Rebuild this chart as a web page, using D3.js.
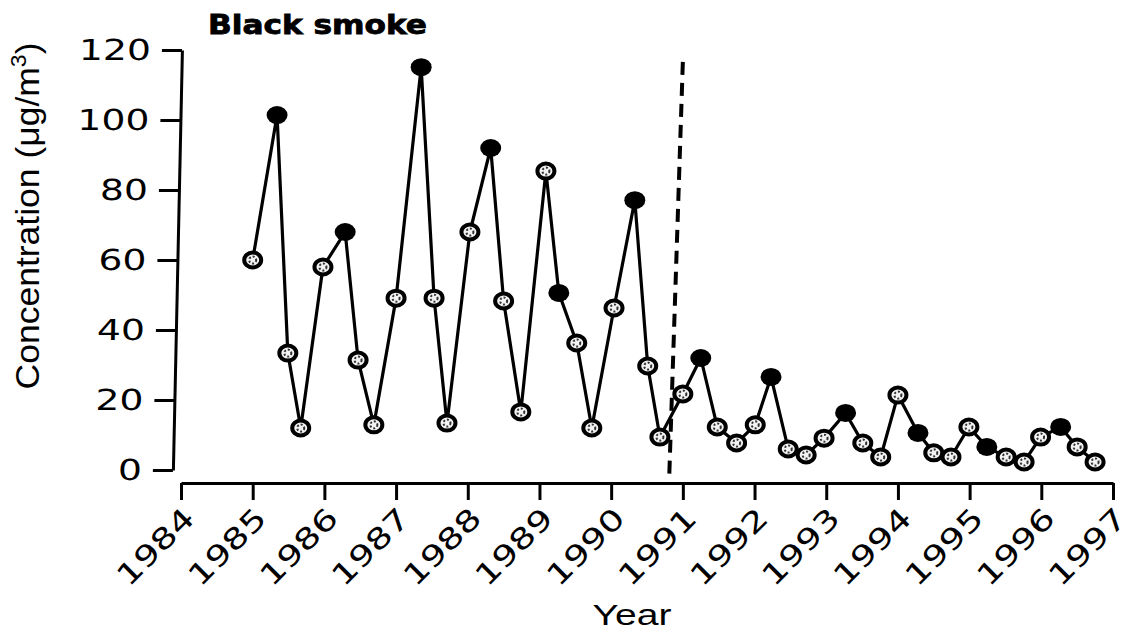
<!DOCTYPE html>
<html>
<head>
<meta charset="utf-8">
<script src="https://cdn.jsdelivr.net/npm/d3@7"></script>
<style>
  body { margin: 0; background: #fff; }
  svg { display: block; }
</style>
</head>
<body>
<svg id="chart"></svg>
<script>
const WIDTH = 1132,
      HEIGHT = 633;

// quarterly samples (year as decimal, value in µg/m3)
const years = [
  1985.00, 1985.34, 1985.49, 1985.67, 1985.98, 1986.29, 1986.47, 1986.69,
  1987.00, 1987.35, 1987.53, 1987.71, 1988.03, 1988.32, 1988.50, 1988.74,
  1989.09, 1989.27, 1989.52, 1989.73, 1990.04, 1990.33, 1990.51, 1990.68,
  1991.00, 1991.25, 1991.48, 1991.75, 1992.01, 1992.23, 1992.47, 1992.72,
  1992.97, 1993.27, 1993.51, 1993.76, 1994.00, 1994.28, 1994.50, 1994.74,
  1994.99, 1995.24, 1995.51, 1995.76, 1995.99, 1996.27, 1996.50, 1996.75
];
const concentration = [
  60, 101.4, 33.4, 12, 58, 68, 31.4, 12.9,
  49.1, 115.1, 49.1, 13.4, 68, 92, 48.3, 16.6,
  85.4, 50.6, 36.3, 12, 46.3, 77.1, 29.7, 9.4,
  21.7, 32, 12.3, 7.7, 12.9, 26.6, 6, 4.3,
  9.1, 16.3, 7.7, 3.7, 21.4, 10.6, 4.9, 3.7,
  12.3, 6.6, 3.7, 2.3, 9.4, 12.3, 6.6, 2.3
];
// black markers vs. open (speckled) markers
const solid = [
  0, 1, 0, 0, 0, 1, 0, 0,
  0, 1, 0, 0, 0, 1, 0, 0,
  0, 1, 0, 0, 0, 1, 0, 0,
  0, 1, 0, 0, 0, 1, 0, 0,
  0, 1, 0, 0, 0, 1, 0, 0,
  0, 1, 0, 0, 0, 1, 0, 0
];

const yTicks = [0, 20, 40, 60, 80, 100, 120];
const xTicks = [1984, 1985, 1986, 1987, 1988, 1989, 1990, 1991, 1992, 1993, 1994, 1995, 1996, 1997];

// dashed marker line (top end, bottom end)
const cutYears = [1991.0, 1990.81];
const cutValues = [116.6, -2];

const svg = d3.select("svg#chart")
                .attr("width", WIDTH)
                .attr("height", HEIGHT);

const xScale = d3.scaleLinear()
                .domain([1984, 1997])
                .range([181, 1113]);

const yScale = d3.scaleLinear()
                .domain([0, 120])
                .range([470, 50]);

// y axis (the scan is slightly skewed, so the axis leans a touch)
const yAxis = svg.append("g")
                .attr("transform", "translate(183,0) skewX(-1.23)")
                .call(d3.axisLeft(yScale)
                        .tickValues(yTicks)
                        .tickSize(20)
                        .tickSizeOuter(0)
                        .tickFormat(d3.format("d")))
                .attr("font-family", "DejaVu Sans")
                .attr("font-size", 29);

yAxis.select(".domain").attr("stroke-width", 3);
yAxis.selectAll(".tick line").attr("stroke-width", 3);
yAxis.selectAll(".tick text")
        .attr("fill", "#000")
        .attr("x", -31 / 1.3)
        .attr("transform", "scale(1.3,1)");

// x axis sits a bit below zero
const xAxis = svg.append("g")
                .attr("transform", "translate(0,483)")
                .call(d3.axisBottom(xScale)
                        .tickValues(xTicks)
                        .tickSize(17)
                        .tickSizeOuter(0)
                        .tickFormat(d3.format("d")))
                .attr("font-family", "DejaVu Sans")
                .attr("font-size", 29);

xAxis.select(".domain").attr("stroke-width", 3);
xAxis.selectAll(".tick line").attr("stroke-width", 3);
xAxis.selectAll(".tick text")
        .attr("fill", "#000")
        .attr("x", null)
        .attr("y", null)
        .attr("dy", null)
        .style("text-anchor", "end")
        .attr("transform", "translate(15,37) rotate(-45) scale(1.3,1)");

// dashed line
svg.append("line")
    .attr("x1", xScale(cutYears[0]))
    .attr("y1", yScale(cutValues[0]))
    .attr("x2", xScale(cutYears[1]))
    .attr("y2", yScale(cutValues[1]))
    .attr("stroke", "#000")
    .attr("stroke-width", 4)
    .attr("stroke-dasharray", "13 8");

// series line
const line = d3.line()
                .x((d, i) => xScale(years[i]))
                .y((d) => yScale(d));

svg.append("path")
    .datum(concentration)
    .attr("fill", "none")
    .attr("stroke", "#000")
    .attr("stroke-width", 3.2)
    .attr("stroke-linejoin", "round")
    .attr("d", line);

// markers
const marks = svg.append("g")
                .selectAll("g")
                .data(concentration)
                .join("g")
                .attr("transform", (d, i) => `translate(${xScale(years[i])},${yScale(d)})`);

marks.filter((d, i) => solid[i])
        .append("ellipse")
        .attr("rx", 10.5)
        .attr("ry", 9)
        .attr("fill", "#000");

const open = marks.filter((d, i) => !solid[i]);

open.append("ellipse")
        .attr("rx", 8.5)
        .attr("ry", 7.5)
        .attr("fill", "#f2f2f2")
        .attr("stroke", "#000")
        .attr("stroke-width", 4);

open.append("circle")
        .attr("r", 3.5)
        .attr("fill", "none")
        .attr("stroke", "#333")
        .attr("stroke-width", 2)
        .attr("stroke-dasharray", "2 2");

// texts
svg.append("text")
    .attr("x", 208)
    .attr("y", 34)
    .attr("font-family", "DejaVu Sans")
    .attr("font-weight", "bold")
    .attr("font-size", 26)
    .attr("stroke", "#000")
    .attr("stroke-width", 0.8)
    .attr("textLength", 219)
    .attr("lengthAdjust", "spacingAndGlyphs")
    .text("Black smoke");

const yLabel = svg.append("text")
    .attr("transform", "translate(39,216) rotate(-90)")
    .attr("font-family", "Liberation Sans")
    .attr("font-size", 34)
    .attr("textLength", 347)
    .attr("lengthAdjust", "spacingAndGlyphs")
    .style("text-anchor", "middle");

yLabel.append("tspan").text("Concentration (\u03bcg/m");
yLabel.append("tspan").attr("font-size", 22).attr("dy", -13).text("3");
yLabel.append("tspan").attr("dy", 13).text(")");

svg.append("text")
    .attr("x", 632)
    .attr("y", 625)
    .attr("font-family", "Liberation Sans")
    .attr("font-size", 30)
    .attr("textLength", 79)
    .attr("lengthAdjust", "spacingAndGlyphs")
    .style("text-anchor", "middle")
    .text("Year");
</script>
</body>
</html>
